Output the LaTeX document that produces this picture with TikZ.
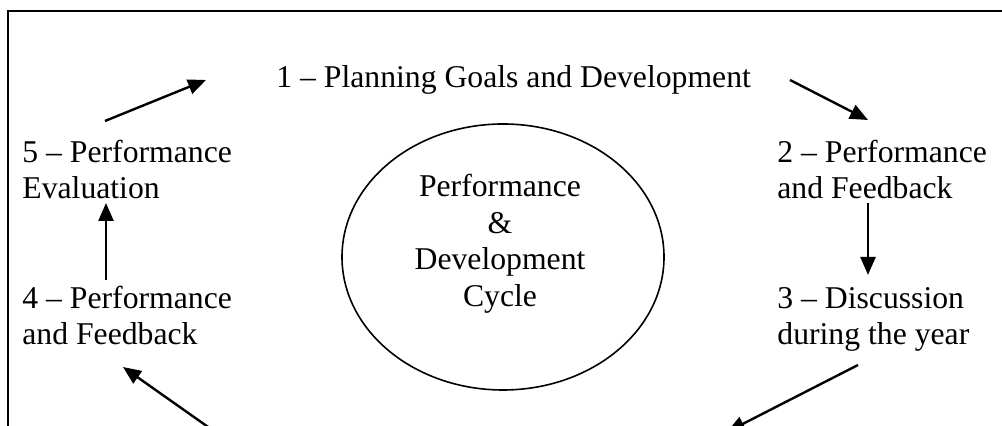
\documentclass[tikz,border=0pt]{standalone}
\usepackage{fontspec}
\setmainfont{Liberation Serif}
\usetikzlibrary{arrows.meta,shapes.geometric}

\tikzset{
  stage/.style={anchor=base west, align=left, inner sep=0pt,
    font=\fontsize{15.85pt}{18.25pt}\selectfont},
  cyc/.style={-{Triangle[length=9pt,width=7.5pt]}, line width=1.2pt}
}

\begin{document}
\begin{tikzpicture}[x=0.5pt,y=0.5pt]
\useasboundingbox (0,0) rectangle (1002,426);
\clip (0,0) rectangle (1002,426);
\draw [line width=0.9pt] (8,415) rectangle (1080,-80);

\node [stage] (plan) at (276,338) {1 -- Planning Goals and Development};
\node [stage] (feedA) at (777,227) {2 -- Performance\\and Feedback};
\node [stage] (discuss) at (777,81) {3 -- Discussion\\during the year};
\node [stage] (feedB) at (22,81) {4 -- Performance\\and Feedback};
\node [stage] (evaluate) at (22,227) {5 -- Performance\\Evaluation};

\node [draw, ellipse, line width=0.8pt, minimum width=161pt, minimum height=133pt] (cycle) at (503,169) {};
\node [align=center, inner sep=0pt, font=\fontsize{15.85pt}{18.25pt}\selectfont] (cycletext) at (500,182) {Performance\\\&\\Development\\Cycle};

%arrow ends
\coordinate (t12) at (790,346);
\coordinate (h12) at (868,306);
\coordinate (t23) at (868,223);
\coordinate (h23) at (868,151);
\coordinate (t34) at (858,61);
\coordinate (h34) at (727,-6);
\coordinate (t45) at (262,-39);
\coordinate (h45) at (123,59);
\coordinate (t54) at (106,146);
\coordinate (h54) at (106,223);
\coordinate (t51) at (105,305);
\coordinate (h51) at (206,346);

\draw [cyc] (t12) -- (h12);
\draw [cyc] (t23) -- (h23);
\draw [cyc] (t34) -- (h34);
\draw [cyc] (t45) -- (h45);
\draw [cyc] (t54) -- (h54);
\draw [cyc] (t51) -- (h51);
\end{tikzpicture}
\end{document}
